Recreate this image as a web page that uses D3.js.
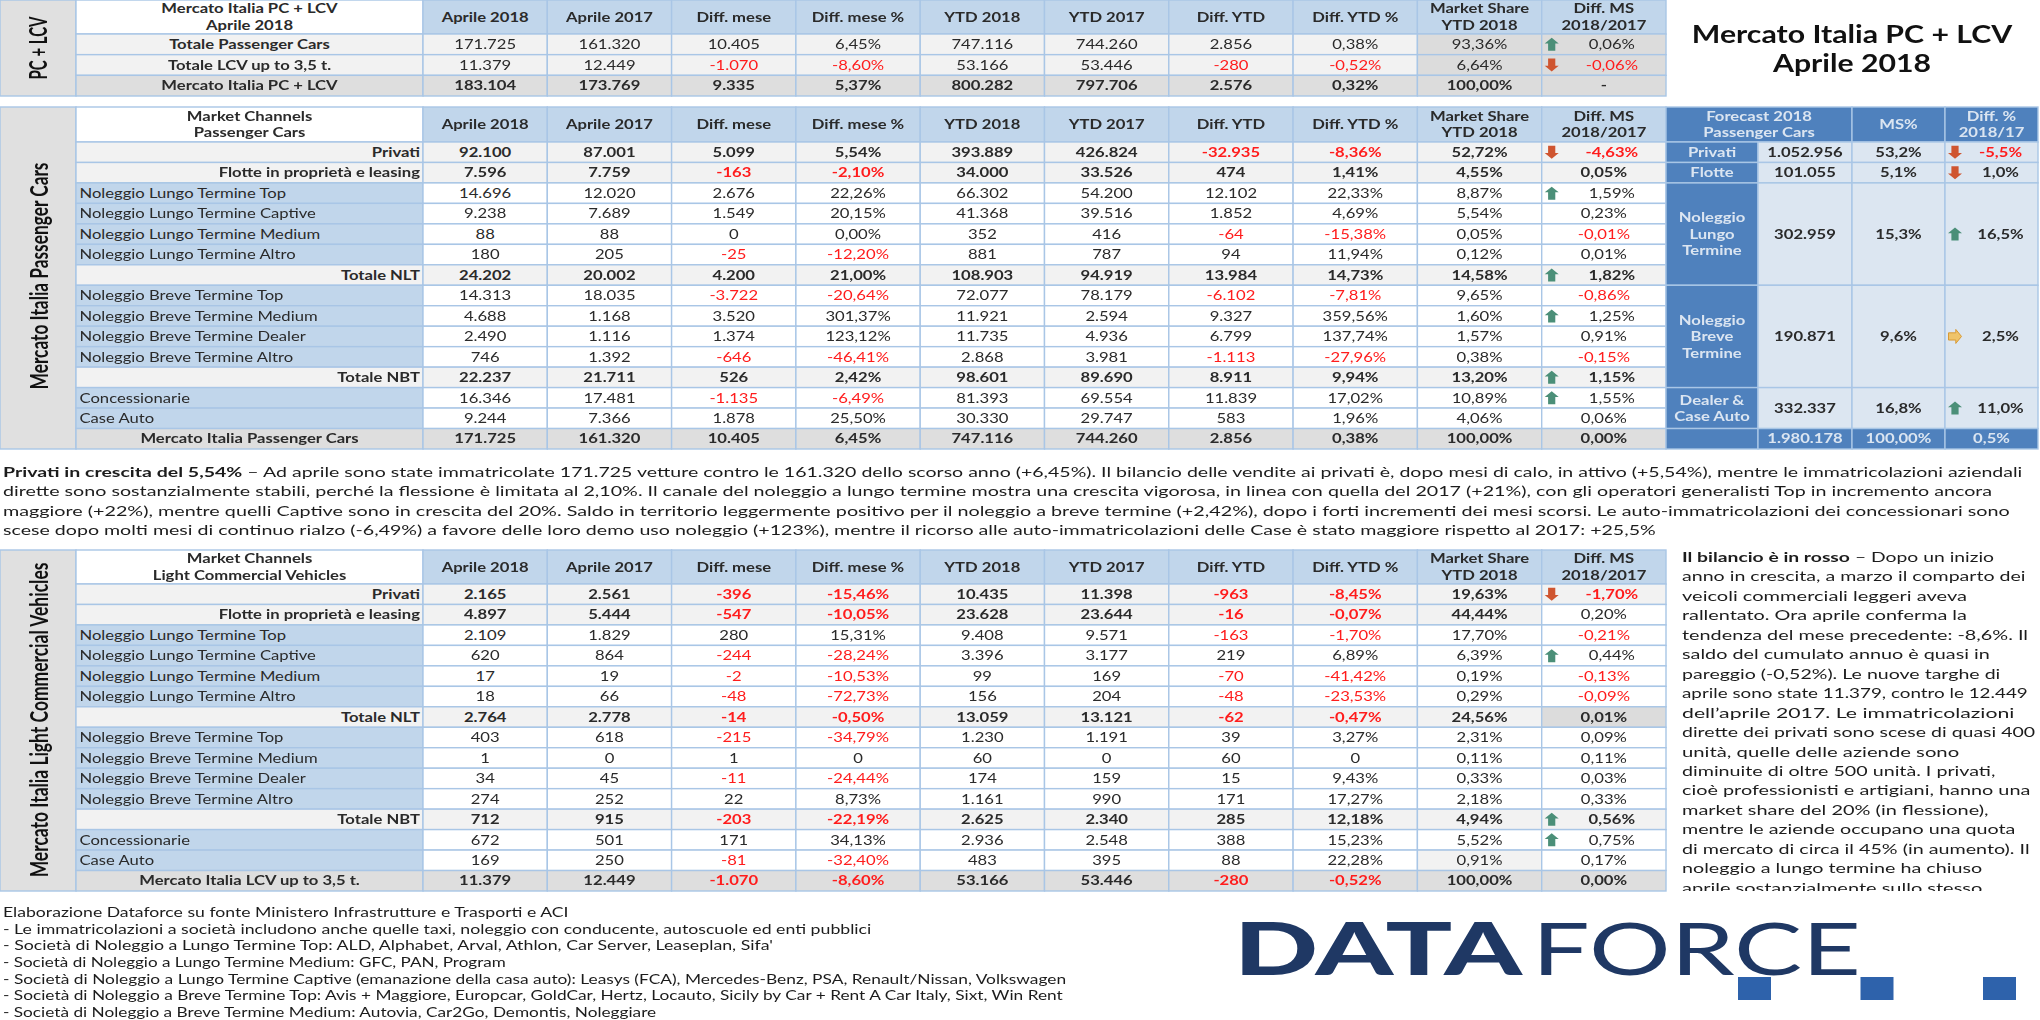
<!DOCTYPE html>
<html><head><meta charset="utf-8">
<script src="https://cdn.jsdelivr.net/npm/d3@7"></script>
<style>html,body{margin:0;padding:0;background:#fff;overflow:hidden}svg{display:block;filter:blur(0.35px)}text{font-family:Lato,"Open Sans",sans-serif}</style>
</head><body><svg id="c" width="2040" height="1020"></svg>
<script>
// ---------- data ----------
const colHeaders=[["Aprile 2018"],["Aprile 2017"],["Diff. mese"],["Diff. mese %"],["YTD 2018"],["YTD 2017"],["Diff. YTD"],["Diff. YTD %"],["Market Share","YTD 2018"],["Diff. MS","2018/2017"]];

const pcHead=["Mercato Italia PC + LCV","Aprile 2018"];
const pcLabels=["Totale Passenger Cars","Totale LCV up to 3,5 t.","Mercato Italia PC + LCV"];
const pcApr18=["171.725","11.379","183.104"];
const pcApr17=["161.320","12.449","173.769"];
const pcDiff=["10.405","-1.070","9.335"];
const pcDiffPct=["6,45%","-8,60%","5,37%"];
const pcYtd18=["747.116","53.166","800.282"];
const pcYtd17=["744.260","53.446","797.706"];
const pcDiffYtd=["2.856","-280","2.576"];
const pcDiffYtdPct=["0,38%","-0,52%","0,32%"];
const pcMs=["93,36%","6,64%","100,00%"];
const pcDiffMs=["0,06%","-0,06%","-"];
const pcIcons=["u","d",""];

const chHead=["Market Channels","Passenger Cars"];
const chLabels=["Privati","Flotte in proprietà e leasing","Noleggio Lungo Termine Top","Noleggio Lungo Termine Captive","Noleggio Lungo Termine Medium","Noleggio Lungo Termine Altro","Totale NLT","Noleggio Breve Termine Top","Noleggio Breve Termine Medium","Noleggio Breve Termine Dealer","Noleggio Breve Termine Altro","Totale NBT","Concessionarie","Case Auto","Mercato Italia Passenger Cars"];
const chApr18=["92.100","7.596","14.696","9.238","88","180","24.202","14.313","4.688","2.490","746","22.237","16.346","9.244","171.725"];
const chApr17=["87.001","7.759","12.020","7.689","88","205","20.002","18.035","1.168","1.116","1.392","21.711","17.481","7.366","161.320"];
const chDiff=["5.099","-163","2.676","1.549","0","-25","4.200","-3.722","3.520","1.374","-646","526","-1.135","1.878","10.405"];
const chDiffPct=["5,54%","-2,10%","22,26%","20,15%","0,00%","-12,20%","21,00%","-20,64%","301,37%","123,12%","-46,41%","2,42%","-6,49%","25,50%","6,45%"];
const chYtd18=["393.889","34.000","66.302","41.368","352","881","108.903","72.077","11.921","11.735","2.868","98.601","81.393","30.330","747.116"];
const chYtd17=["426.824","33.526","54.200","39.516","416","787","94.919","78.179","2.594","4.936","3.981","89.690","69.554","29.747","744.260"];
const chDiffYtd=["-32.935","474","12.102","1.852","-64","94","13.984","-6.102","9.327","6.799","-1.113","8.911","11.839","583","2.856"];
const chDiffYtdPct=["-8,36%","1,41%","22,33%","4,69%","-15,38%","11,94%","14,73%","-7,81%","359,56%","137,74%","-27,96%","9,94%","17,02%","1,96%","0,38%"];
const chMs=["52,72%","4,55%","8,87%","5,54%","0,05%","0,12%","14,58%","9,65%","1,60%","1,57%","0,38%","13,20%","10,89%","4,06%","100,00%"];
const chDiffMs=["-4,63%","0,05%","1,59%","0,23%","-0,01%","0,01%","1,82%","-0,86%","1,25%","0,91%","-0,15%","1,15%","1,55%","0,06%","0,00%"];
const chIcons=["d","","u","","","","u","","u","","","u","u","",""];

const lcvHead=["Market Channels","Light Commercial Vehicles"];
const lcvLabels=["Privati","Flotte in proprietà e leasing","Noleggio Lungo Termine Top","Noleggio Lungo Termine Captive","Noleggio Lungo Termine Medium","Noleggio Lungo Termine Altro","Totale NLT","Noleggio Breve Termine Top","Noleggio Breve Termine Medium","Noleggio Breve Termine Dealer","Noleggio Breve Termine Altro","Totale NBT","Concessionarie","Case Auto","Mercato Italia LCV up to 3,5 t."];
const lcvApr18=["2.165","4.897","2.109","620","17","18","2.764","403","1","34","274","712","672","169","11.379"];
const lcvApr17=["2.561","5.444","1.829","864","19","66","2.778","618","0","45","252","915","501","250","12.449"];
const lcvDiff=["-396","-547","280","-244","-2","-48","-14","-215","1","-11","22","-203","171","-81","-1.070"];
const lcvDiffPct=["-15,46%","-10,05%","15,31%","-28,24%","-10,53%","-72,73%","-0,50%","-34,79%","0","-24,44%","8,73%","-22,19%","34,13%","-32,40%","-8,60%"];
const lcvYtd18=["10.435","23.628","9.408","3.396","99","156","13.059","1.230","60","174","1.161","2.625","2.936","483","53.166"];
const lcvYtd17=["11.398","23.644","9.571","3.177","169","204","13.121","1.191","0","159","990","2.340","2.548","395","53.446"];
const lcvDiffYtd=["-963","-16","-163","219","-70","-48","-62","39","60","15","171","285","388","88","-280"];
const lcvDiffYtdPct=["-8,45%","-0,07%","-1,70%","6,89%","-41,42%","-23,53%","-0,47%","3,27%","0","9,43%","17,27%","12,18%","15,23%","22,28%","-0,52%"];
const lcvMs=["19,63%","44,44%","17,70%","6,39%","0,19%","0,29%","24,56%","2,31%","0,11%","0,33%","2,18%","4,94%","5,52%","0,91%","100,00%"];
const lcvDiffMs=["-1,70%","0,20%","-0,21%","0,44%","-0,13%","-0,09%","0,01%","0,09%","0,11%","0,03%","0,33%","0,56%","0,75%","0,17%","0,00%"];
const lcvIcons=["d","","","u","","","","","","","","u","u","",""];

const fcHeaders=[["Forecast 2018","Passenger Cars"],["MS%"],["Diff. %","2018/17"]];
const fcNames=[["Privati"],["Flotte"],["Noleggio","Lungo","Termine"],["Noleggio","Breve","Termine"],["Dealer &","Case Auto"],[""]];
const fcValues=["1.052.956","101.055","302.959","190.871","332.337","1.980.178"];
const fcMs=["53,2%","5,1%","15,3%","9,6%","16,8%","100,00%"];
const fcDiff=["-5,5%","1,0%","16,5%","2,5%","11,0%","0,5%"];
const fcIcons=["d","d","u","r","u",""];
const fcSpans=[1,1,5,5,2,1]; // how many table rows each forecast row covers

const titleLines=["Mercato Italia PC + LCV","Aprile 2018"];
const sideLabels=["PC + LCV","Mercato Italia Passenger Cars","Mercato Italia Light Commercial Vehicles"];

const para1=[
 [["Privati in crescita del 5,54%",1],[" – Ad aprile sono state immatricolate 171.725 vetture contro le 161.320 dello scorso anno (+6,45%). Il bilancio delle vendite ai privati è, dopo mesi di calo, in attivo (+5,54%), mentre le immatricolazioni aziendali",0]],
 [["dirette sono sostanzialmente stabili, perché la flessione è limitata al 2,10%. Il canale del noleggio a lungo termine mostra una crescita vigorosa, in linea con quella del 2017 (+21%), con gli operatori generalisti Top in incremento ancora",0]],
 [["maggiore (+22%), mentre quelli Captive sono in crescita del 20%. Saldo in territorio leggermente positivo per il noleggio a breve termine (+2,42%), dopo i forti incrementi dei mesi scorsi. Le auto-immatricolazioni dei concessionari sono",0]],
 [["scese dopo molti mesi di continuo rialzo (-6,49%) a favore delle loro demo uso noleggio (+123%), mentre il ricorso alle auto-immatricolazioni delle Case è stato maggiore rispetto al 2017: +25,5%",0]]
];
const para2=[
 [["Il bilancio è in rosso",1],[" – Dopo un inizio",0]],
 [["anno in crescita, a marzo il comparto dei",0]],[["veicoli commerciali leggeri aveva",0]],[["rallentato. Ora aprile conferma la",0]],
 [["tendenza del mese precedente: -8,6%. Il",0]],[["saldo del cumulato annuo è quasi in",0]],[["pareggio (-0,52%). Le nuove targhe di",0]],
 [["aprile sono state 11.379, contro le 12.449",0]],[["dell’aprile 2017. Le immatricolazioni",0]],[["dirette dei privati sono scese di quasi 400",0]],
 [["unità, quelle delle aziende sono",0]],[["diminuite di oltre 500 unità. I privati,",0]],[["cioè professionisti e artigiani, hanno una",0]],
 [["market share del 20% (in flessione),",0]],[["mentre le aziende occupano una quota",0]],[["di mercato di circa il 45% (in aumento). Il",0]],
 [["noleggio a lungo termine ha chiuso",0]],[["aprile sostanzialmente sullo stesso",0]]
];
const notes=[
 "Elaborazione Dataforce su fonte Ministero Infrastrutture e Trasporti e ACI",
 "- Le immatricolazioni a società includono anche quelle taxi, noleggio con conducente, autoscuole ed enti pubblici",
 "- Società di Noleggio a Lungo Termine Top: ALD, Alphabet, Arval, Athlon, Car Server, Leaseplan, Sifa'",
 "- Società di Noleggio a Lungo Termine Medium: GFC, PAN, Program",
 "- Società di Noleggio a Lungo Termine Captive (emanazione della casa auto): Leasys (FCA), Mercedes-Benz, PSA, Renault/Nissan, Volkswagen",
 "- Società di Noleggio a Breve Termine Top: Avis + Maggiore, Europcar, GoldCar, Hertz, Locauto, Sicily by Car + Rent A Car Italy, Sixt, Win Rent",
 "- Società di Noleggio a Breve Termine Medium: Autovia, Car2Go, Demontis, Noleggiare"
];
const logoWords=["DATA","FORCE"];
const logoDots=[0,1,2];

// ---------- drawing ----------
const svg=d3.select("#c");
const GRID="#a9c6e6",HEAD="#c1d6eb",LIGHT="#f2f2f2",TOTAL="#dedede",BAND="#e0e0e0",FCBLUE="#4f81bd",FCBODY="#dce6f1",INK="#2a2a2a",RED="#ff1c1c",FCTXT="#dbe5f1";
const SX=1.28,FS=13;
const xCol=d3.scaleLinear().domain([0,10]).range([423,1666]);

// right-hand ends of the running text lines, as measured on the page
const para1Ends=[2023,1994,2011,1658];
const para2Ends=[1510,1550,1476,1476,1553,1505,1518,1553,1536,1562,1466,1512,1556,1503,1537,1555,1495,1495].map(e=>800+e/1.2645);
const notesEnds=[569,872,774,506,1067,1064,657];

function txt(g,s,x,y,o={}){
  const t=g.append("text").attr("transform",`translate(${x},${y}) scale(${o.sx||SX},1)`)
   .attr("dy",".36em").attr("text-anchor",o.anchor||"middle")
   .attr("font-size",o.fs||FS).attr("font-weight",o.bold?700:400)
   .attr("fill",o.fill||INK).text(s);
  return t;
}
function multi(g,lines,x,yc,step,o){
  lines.forEach((l,i)=>txt(g,l,x,yc+(i-(lines.length-1)/2)*step,o));
}
function cell(g,x0,x1,y0,y1,fill){
  g.append("rect").attr("x",x0).attr("y",y0).attr("width",x1-x0).attr("height",y1-y0)
   .attr("fill",fill).attr("stroke",GRID).attr("stroke-width",1.4);
}
const ARROW="M0,-6.5L7,-0.8L3.6,-0.8L3.6,6.5L-3.6,6.5L-3.6,-0.8L-7,-0.8Z";
function icon(g,k,x,y){
  if(!k)return;
  const st={u:["#4b8f78",0],d:["#cf5530",180],r:["#efc46a",90]}[k];
  g.append("path").attr("d",ARROW).attr("fill",st[0]).attr("stroke",k==="r"?"#d99a35":"none")
   .attr("transform",`translate(${x},${y}) rotate(${st[1]})`);
}
const isDetail=l=>/^Noleggio|^Concess|^Case/.test(l);
const isBottom=l=>/^Mercato/.test(l);

function drawTable(o){
  const g=svg.append("g");
  const n=o.labels.length;
  const y=d3.scaleLinear().domain([0,n]).range([o.rowTop,o.bottom]);
  cell(g,0,76,o.top,o.bottom,BAND);
  cell(g,76,xCol(0),o.top,o.rowTop,"#fff");
  multi(g,o.head,(76+xCol(0))/2,(o.top+o.rowTop)/2,16.5,{bold:1});
  colHeaders.forEach((h,c)=>{
    cell(g,xCol(c),xCol(c+1),o.top,o.rowTop,HEAD);
    multi(g,h,(xCol(c)+xCol(c+1))/2,(o.top+o.rowTop)/2,16.5,{bold:1});
  });
  o.labels.forEach((l,r)=>{
    const det=isDetail(l),bot=isBottom(l),y0=y(r),y1=y(r+1),ym=(y0+y1)/2;
    cell(g,76,xCol(0),y0,y1,det?HEAD:(bot?TOTAL:LIGHT));
    if(det) txt(g,l,79.5,ym,{anchor:"start"});
    else if(bot||o.centerLabels) txt(g,l,(76+xCol(0))/2,ym,{bold:1});
    else txt(g,l,420,ym,{anchor:"end",bold:1});
    o.cols.forEach((col,c)=>{
      const v=col[r];
      let fill=det?"#fff":(bot?TOTAL:LIGHT);
      if(o.fillFor) fill=o.fillFor(r,c,fill);
      cell(g,xCol(c),xCol(c+1),y0,y1,fill);
      const bold=o.boldFor?o.boldFor(r,c,det):!det;
      let cx=(xCol(c)+xCol(c+1))/2;
      if(c===9&&o.icons[r]){cx+=8;icon(g,o.icons[r],xCol(9)+10,ym);}
      txt(g,v,cx,ym,{bold,fill:/^-\d/.test(v)?RED:INK});
    });
  });
  return y;
}

drawTable({top:0,rowTop:34,bottom:96,head:pcHead,labels:pcLabels,centerLabels:true,icons:pcIcons,
  cols:[pcApr18,pcApr17,pcDiff,pcDiffPct,pcYtd18,pcYtd17,pcDiffYtd,pcDiffYtdPct,pcMs,pcDiffMs],
  fillFor:(r,c,f)=>c>=8?"#dcdcdc":f,boldFor:(r,c)=>r===2});

const yCh=drawTable({top:107,rowTop:142,bottom:449,head:chHead,labels:chLabels,icons:chIcons,
  cols:[chApr18,chApr17,chDiff,chDiffPct,chYtd18,chYtd17,chDiffYtd,chDiffYtdPct,chMs,chDiffMs]});

drawTable({top:550,rowTop:584,bottom:891,head:lcvHead,labels:lcvLabels,icons:lcvIcons,
  cols:[lcvApr18,lcvApr17,lcvDiff,lcvDiffPct,lcvYtd18,lcvYtd17,lcvDiffYtd,lcvDiffYtdPct,lcvMs,lcvDiffMs],
  boldFor:(r,c,det)=>!det&&!(c===9&&r===1),
  fillFor:(r,c,f)=>{if(c===9&&r===1)return "#fff";if(c===9&&r===6)return "#dcdcdc";if(c===8&&r===13)return LIGHT;return f;}});

// side labels: baseline x, centre y, text, length along the band
[[47,48,sideLabels[0],63],[48,276,sideLabels[1],227],[48,720,sideLabels[2],315]].forEach(d=>{
  const t=svg.append("text").attr("text-anchor","middle").attr("font-size",24).attr("font-weight",700).attr("fill","#111").text(d[2]);
  const k=d[3]/t.node().getComputedTextLength();
  t.attr("transform",`translate(${d[0]},${d[1]}) rotate(-90) scale(${k},1)`);
});

// forecast panel
(function(){
  const g=svg.append("g");
  const xF=d3.scaleOrdinal().domain(["a","b","c","d","e"]).range([1666,1758,1852,1945,2038]);
  const hm=(107+142)/2;
  cell(g,xF("a"),xF("c"),107,142,FCBLUE);
  cell(g,xF("c"),xF("d"),107,142,FCBLUE);
  cell(g,xF("d"),xF("e"),107,142,FCBLUE);
  const f={fill:FCTXT,bold:1};
  multi(g,fcHeaders[0],(xF("a")+xF("c"))/2,hm,16.5,f);
  multi(g,fcHeaders[1],(xF("c")+xF("d"))/2,hm,16.5,f);
  multi(g,fcHeaders[2],(xF("d")+xF("e"))/2,hm,16.5,f);
  let r=0;
  fcNames.forEach((nm,i)=>{
    const y0=yCh(r),y1=yCh(r+fcSpans[i]),ym=(y0+y1)/2;r+=fcSpans[i];
    const last=i===fcNames.length-1,b=last?FCBLUE:FCBODY,tf=last?{fill:FCTXT,bold:1}:{bold:1};
    cell(g,xF("a"),xF("b"),y0,y1,FCBLUE);
    cell(g,xF("b"),xF("c"),y0,y1,b);
    cell(g,xF("c"),xF("d"),y0,y1,b);
    cell(g,xF("d"),xF("e"),y0,y1,b);
    multi(g,nm,(xF("a")+xF("b"))/2,ym,16.5,f);
    txt(g,fcValues[i],(xF("b")+xF("c"))/2,ym,tf);
    txt(g,fcMs[i],(xF("c")+xF("d"))/2,ym,tf);
    const v=fcDiff[i];
    txt(g,v,(xF("d")+xF("e"))/2+(fcIcons[i]?9:0),ym,{bold:1,fill:/^-/.test(v)?RED:tf.fill});
    icon(g,fcIcons[i],xF("d")+10,ym);
  });
})();

// title
titleLines.forEach((t,i)=>txt(svg,t,1852,34+i*29.5,{fs:24,sx:1.26,bold:1,fill:"#111"}));

// running text: each line is stretched to end where the reference line ends
function fitLine(t,x,y,end){
  const k=(end-x)/t.node().getComputedTextLength();
  t.attr("transform",`translate(${x},${y}) scale(${k},1)`);
}
function para(g,lines,ends,x,y0,step,fs){
  lines.forEach((runs,i)=>{
    const t=g.append("text").attr("dy",".36em").attr("font-size",fs).attr("fill","#1c1c1c");
    runs.forEach(r=>t.append("tspan").attr("font-weight",r[1]?700:400).text(r[0]));
    fitLine(t,x,y0+i*step,ends[i]);
  });
}
para(svg.append("g"),para1,para1Ends,3,472,19.3,14);
svg.append("clipPath").attr("id","cp").append("rect").attr("x",1670).attr("y",545).attr("width",370).attr("height",346);
para(svg.append("g").attr("clip-path","url(#cp)"),para2,para2Ends,1682,557,19.45,14);
para(svg.append("g"),notes.map(n=>[[n,0]]),notesEnds,3,912,16.7,13.5);

// logo
const lg=svg.append("g");
const xLogo=d3.scaleOrdinal().domain(logoWords).range([1234,1532]);
const wLogo=d3.scaleOrdinal().domain(logoWords).range([288,329]);
logoWords.forEach((w,i)=>{
  lg.append("text").attr("x",xLogo(w)).attr("y",975).attr("font-size",72)
    .attr("font-weight",i?400:900).attr("fill","#1f3864")
    .attr("textLength",wLogo(w)).attr("lengthAdjust","spacingAndGlyphs").text(w);
});
const xDot=d3.scalePoint().domain(logoDots).range([1738,1983]);
lg.selectAll("rect").data(logoDots).join("rect").attr("x",d=>xDot(d)).attr("y",977)
  .attr("width",33).attr("height",23).attr("fill","#2e62ab");
</script></body></html>
